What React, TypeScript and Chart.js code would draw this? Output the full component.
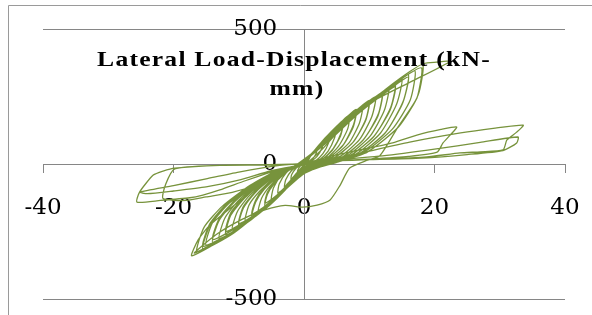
import { useEffect, useRef } from "react";
import { Chart, registerables } from "chart.js";

Chart.register(...registerables);

// Title and axis ticks
const titleLines = ["Lateral Load-Displacement (kN-", "mm)"];
const xTickValues = [-40, -20, 0, 20, 40];
const yTickValues = [-500, 0, 500];

// [displacement (mm), load (kN)] — small amplitude cycles (±1 .. ±9 mm)
const smallCycles: [number, number][] = [
  [0, 0], [0.4, 16], [0.8, 30], [1.0, 35], [0.9, 24], [0.5, 8], [0.1, -2], [-0.4, -14], [-0.8, -26], [-1.0, -30], [-0.9, -20], [-0.5, -6], [-0.1, 2],
  [0.3, 4], [0.8, 22], [1.5, 45], [2.0, 60], [1.9, 42], [1.3, 18], [0.6, 5], [0, -4], [-0.7, -22], [-1.5, -44], [-2.0, -58], [-1.9, -40], [-1.2, -15], [-0.5, -2],
  [0.1, 0], [0.9, 28], [1.9, 58], [2.6, 78], [3.0, 88], [2.8, 62], [2.0, 28], [1.0, 8], [0.2, -3], [-0.9, -28], [-1.9, -56], [-2.6, -75], [-3.0, -85], [-2.8, -58], [-1.9, -24], [-0.9, -6],
  [0, 0], [1.2, 38], [2.5, 75], [3.4, 98], [4.0, 112], [3.8, 80], [2.9, 38], [1.7, 10], [0.5, -4], [-0.8, -30], [-2.2, -68], [-3.3, -95], [-4.0, -108], [-3.8, -74], [-2.7, -32], [-1.4, -8],
  [-0.2, 0], [1.4, 45], [3.0, 90], [4.3, 122], [5.0, 138], [4.7, 98], [3.7, 48], [2.3, 14], [0.8, -4], [-0.6, -28], [-2.4, -78], [-4.0, -116], [-5.0, -132], [-4.7, -90], [-3.5, -40], [-1.8, -10], [-0.4, 0],
  [1.6, 50], [3.4, 100], [5.0, 140], [6.0, 160], [5.7, 116], [4.5, 58], [2.9, 18], [1.1, -3], [-0.5, -28], [-2.6, -88], [-4.6, -134], [-6.0, -155], [-5.6, -112], [-4.6, -74], [-3.0, -37], [-1.6, -12], [-0.4, -2],
  [1.5, 44], [3.3, 92], [4.9, 132], [6.0, 150], [5.6, 104], [4.3, 50], [2.6, 14], [0.9, -4], [-0.7, -30], [-2.8, -86], [-4.8, -128], [-6.0, -145], [-5.6, -104], [-4.6, -70], [-3.0, -35], [-1.6, -12], [-0.4, -1],
  [1.8, 55], [3.9, 112], [5.8, 158], [7.0, 182], [6.7, 130], [5.3, 66], [3.4, 20], [1.4, -2], [-0.4, -26], [-2.8, -92], [-5.2, -150], [-7.0, -176], [-6.5, -127], [-5.3, -84], [-3.5, -42], [-1.8, -14], [-0.4, -2],
  [2.0, 58], [4.4, 122], [6.6, 175], [8.0, 202], [7.6, 146], [6.1, 74], [3.9, 24], [1.6, -2], [-0.4, -28], [-3.1, -102], [-5.9, -166], [-8.0, -196], [-7.4, -141], [-6.1, -94], [-4.0, -47], [-2.1, -16], [-0.5, -2],
  [2.2, 56], [4.6, 118], [6.8, 166], [8.0, 190], [7.5, 134], [5.9, 66], [3.6, 20], [1.4, -3], [-0.6, -30], [-3.3, -100], [-6.1, -158], [-8.0, -185], [-7.4, -133], [-6.1, -89], [-4.0, -44], [-2.1, -15], [-0.5, -2],
  [2.3, 64], [5.0, 132], [7.5, 188], [9.0, 215], [8.5, 152], [6.9, 78], [4.4, 26], [1.8, -1], [-0.5, -30], [-3.4, -106], [-6.6, -176], [-9.0, -210], [-8.4, -151], [-6.8, -101], [-4.5, -50], [-2.3, -17], [-0.5, -2],
];

// Large amplitude cycles (±10 .. ±18 mm)
const largeCycles: [number, number][] = [
  [2.5, 70], [5.4, 142], [8.2, 202], [10.0, 236], [9.5, 168], [7.7, 86], [5.0, 28], [2.1, 0], [-0.4, -30], [-3.6, -110], [-7.1, -188], [-10.0, -228], [-9.3, -164], [-7.6, -109], [-5.0, -55], [-2.6, -18], [-0.6, -2],
  [2.7, 68], [5.6, 138], [8.4, 196], [10.0, 225], [9.4, 158], [7.5, 80], [4.8, 26], [1.9, 0], [-0.6, -32], [-3.8, -112], [-7.3, -184], [-10.0, -220], [-9.3, -158], [-7.6, -106], [-5.0, -53], [-2.6, -18], [-0.6, -2],
  [2.8, 74], [6.0, 150], [9.0, 214], [11.0, 250], [10.4, 176], [8.5, 90], [5.6, 29], [2.4, 0], [-0.4, -31], [-3.9, -118], [-7.8, -200], [-11.0, -245], [-10.2, -176], [-8.4, -118], [-5.5, -59], [-2.9, -20], [-0.7, -2],
  [3.0, 78], [6.5, 160], [9.8, 226], [12.0, 265], [11.4, 186], [9.3, 96], [6.2, 30], [2.8, 1], [-0.3, -32], [-4.2, -124], [-8.4, -212], [-12.0, -262], [-11.2, -189], [-9.1, -126], [-6.0, -63], [-3.1, -21], [-0.7, -3],
  [3.2, 76], [6.7, 156], [10.0, 220], [12.0, 255], [11.3, 176], [9.1, 90], [6.0, 28], [2.6, 0], [-0.5, -34], [-4.4, -124], [-8.6, -206], [-12.0, -250], [-11.2, -180], [-9.1, -120], [-6.0, -60], [-3.1, -20], [-0.7, -3],
  [3.3, 82], [7.1, 170], [10.7, 242], [13.0, 282], [12.3, 198], [10.1, 102], [6.7, 32], [3.1, 1], [-0.3, -33], [-4.5, -130], [-9.1, -224], [-13.0, -276], [-12.1, -199], [-9.9, -132], [-6.5, -66], [-3.4, -22], [-0.8, -3],
  [3.5, 85], [7.6, 178], [11.5, 255], [14.0, 298], [13.3, 210], [10.9, 108], [7.3, 34], [3.4, 2], [-0.2, -34], [-4.8, -136], [-9.8, -236], [-14.0, -290], [-13.0, -209], [-10.6, -139], [-7.0, -70], [-3.6, -23], [-0.8, -3],
  [3.7, 84], [7.8, 176], [11.7, 250], [14.0, 286], [13.2, 200], [10.7, 102], [7.1, 32], [3.2, 1], [-0.4, -35], [-5.0, -136], [-10.0, -230], [-14.0, -280], [-13.0, -202], [-10.6, -134], [-7.0, -67], [-3.6, -22], [-0.8, -3],
  [3.8, 90], [8.1, 190], [12.4, 270], [15.0, 314], [14.2, 222], [11.7, 114], [7.9, 36], [3.7, 2], [-0.1, -35], [-5.0, -140], [-10.3, -245], [-15.0, -300], [-14.0, -216], [-11.4, -144], [-7.5, -72], [-3.9, -24], [-0.9, -3],
  [4.0, 95], [8.6, 200], [13.2, 285], [16.0, 330], [15.2, 232], [12.6, 120], [8.5, 38], [4.0, 3], [0, -36], [-5.2, -146], [-10.8, -256], [-15.5, -315], [-14.4, -227], [-11.8, -151], [-7.8, -76], [-4.0, -25], [-0.9, -3],
  [4.2, 94], [8.8, 198], [13.4, 282], [16.0, 322], [15.1, 224], [12.4, 114], [8.3, 36], [3.8, 2], [-0.2, -36], [-5.4, -146], [-11.0, -252], [-15.5, -305], [-14.4, -220], [-11.8, -146], [-7.8, -73], [-4.0, -24], [-0.9, -3],
  [4.3, 98], [9.2, 208], [14.0, 298], [17.0, 345], [16.3, 238], [13.5, 128], [9.1, 42], [4.6, 5], [0.2, -32], [-5.4, -148], [-11.1, -258], [-16.4, -325], [-15.3, -234], [-12.5, -156], [-8.2, -78], [-4.3, -26], [-1.0, -3],
  [4.4, 100], [9.6, 215], [14.6, 310], [18.0, 356], [17.3, 244], [14.3, 133], [9.7, 44], [5.1, 7], [0.3, -30], [-5.6, -150], [-11.4, -262], [-17.2, -340], [-16.2, -280], [-14.4, -226], [-9.3, -126], [-5.2, -52], [-1.5, -8],
  [4.6, 104], [9.8, 222], [15.0, 322], [18.2, 368], [17.5, 256], [14.5, 138], [9.8, 46], [5.0, 6], [0.2, -30], [-5.4, -146], [-11.0, -255], [-16.8, -330],
];

// Reloading to the peak plateau and the unloading after it
const peakBranch: [number, number][] = [
  [-13.5, -262], [-9.5, -205], [-6.0, -170], [-2.9, -153], [-0.2, -160], [2.0, -152], [4.0, -133], [5.5, -80], [7.0, -15], [9.5, 12], [11.6, 30],
  [14.3, 133], [17.3, 244], [18.2, 350], [18.4, 372], [20.3, 377], [22.4, 380],
  [16.5, 306], [10.1, 226], [6.0, 140], [3.0, 60], [0.5, 5],
];

// Degraded cycles after the peak
const degradedCycles: [number, number][] = [
  [-3.0, -30], [-7.0, -75], [-11.0, -105], [-15.0, -122], [-18.0, -135], [-21.6, -128], [-21.2, -75], [-19.8, -18], [-13.0, -5], [-6.7, -3], [0, 2],
  [4.0, 28], [8.6, 52], [13.6, 78], [17.3, 107], [21.0, 128], [23.4, 137], [22.4, 107], [21.3, 78], [20.4, 44], [16.0, 28], [10.0, 18], [5.0, 12], [1.0, 4],
  [-3.0, -3], [-6.7, -4], [-12.9, -5], [-19.8, -15], [-21.6, -26], [-23.1, -41], [-25.2, -104], [-25.6, -141], [-22.0, -135], [-17.5, -125], [-15.5, -115], [-12.9, -96], [-9.0, -62], [-5.0, -30], [-1.0, -5],
  [3.0, 10], [8.6, 40], [16.2, 81], [24.0, 115], [29.0, 132], [33.6, 144], [32.6, 118], [31.1, 89], [30.5, 52], [27.0, 45], [23.9, 41], [18.8, 26], [12.0, 18], [6.0, 14], [1.0, 5],
  [-4.0, -6], [-10.0, -30], [-15.0, -55], [-20.0, -80], [-25.2, -104], [-24.0, -110], [-20.0, -100], [-15.0, -85], [-10.0, -60], [-5.0, -25], [0, -2],
  [5.0, 15], [12.0, 30], [20.0, 55], [27.0, 80], [32.8, 100], [32.6, 78], [30.5, 50], [25.0, 35], [18.0, 22], [10.0, 16], [4.0, 12], [0, 5],
];

const LINE_COLOR = "#77933C";
const AXIS_COLOR = "#868686";

const zeroPadding = (scale: any) => {
  scale.paddingLeft = 0;
  scale.paddingRight = 0;
  scale.paddingTop = 0;
  scale.paddingBottom = 0;
};

export default function App() {
  const canvasRef = useRef<HTMLCanvasElement | null>(null);

  useEffect(() => {
    const canvas = canvasRef.current;
    if (!canvas) return;

    const allPoints = [...smallCycles, ...largeCycles, ...peakBranch, ...degradedCycles].map(
      ([x, y]) => ({ x, y })
    );

    const framePlugin = {
      id: "frame",
      beforeDraw(chart: any) {
        const ctx = chart.ctx;
        ctx.save();
        ctx.fillStyle = "#ffffff";
        ctx.fillRect(0, 0, chart.width, chart.height);
        ctx.strokeStyle = "#9a9a9a";
        ctx.lineWidth = 1;
        ctx.beginPath();
        ctx.moveTo(8.5, chart.height + 2);
        ctx.lineTo(8.5, 5.5);
        ctx.lineTo(chart.width + 2, 5.5);
        ctx.stroke();
        ctx.restore();
      },
    };

    const titlePlugin = {
      id: "overlayTitle",
      afterDatasetsDraw(chart: any) {
        const ctx = chart.ctx;
        ctx.save();
        ctx.fillStyle = "#000000";
        ctx.font = "bold 21px 'Liberation Serif'";
        ctx.textAlign = "center";
        ctx.textBaseline = "alphabetic";
        try {
          (ctx as any).letterSpacing = "1px";
        } catch (e) {}
        const baselines = [66, 95];
        const centers = [294, 297];
        titleLines.forEach((line, i) => {
          ctx.save();
          ctx.translate(centers[i], baselines[i]);
          ctx.scale(1.22, 1);
          ctx.fillText(line, 0, 0);
          ctx.restore();
        });
        ctx.restore();
      },
    };

    const tickFont = { family: "'DejaVu Serif'", size: 23 };

    const chart = new Chart(canvas, {
      type: "scatter",
      data: {
        datasets: [
          {
            data: allPoints,
            showLine: true,
            borderColor: LINE_COLOR,
            borderWidth: 1.3,
            pointRadius: 0,
            tension: 0.2,
            fill: false,
          },
        ],
      },
      options: {
        responsive: false,
        animation: false,
        events: [],
        layout: { padding: { left: 43, right: 27, top: 29, bottom: 16 } },
        plugins: {
          legend: { display: false },
          tooltip: { enabled: false },
          title: { display: false },
        },
        scales: {
          x: {
            type: "linear",
            position: { y: 0 } as any,
            min: -40,
            max: 40,
            afterBuildTicks: (scale: any) => {
              scale.ticks = xTickValues.map((v) => ({ value: v }));
            },
            afterFit: zeroPadding,
            ticks: {
              font: tickFont,
              color: "#000000",
              padding: 22,
              maxRotation: 0,
              autoSkip: false,
            },
            grid: {
              drawOnChartArea: false,
              drawTicks: true,
              tickLength: 8,
              color: AXIS_COLOR,
              tickColor: AXIS_COLOR,
            },
            border: { display: true, color: AXIS_COLOR, width: 1 },
          },
          y: {
            type: "linear",
            position: { x: 0 } as any,
            min: -500,
            max: 500,
            afterBuildTicks: (scale: any) => {
              scale.ticks = yTickValues.map((v) => ({ value: v }));
            },
            afterFit: zeroPadding,
            ticks: { display: false },
            grid: { color: AXIS_COLOR, drawTicks: false },
            border: { display: true, color: AXIS_COLOR, width: 1 },
          },
          yLabels: {
            type: "linear",
            axis: "y",
            position: { x: -4.1 } as any,
            min: -500,
            max: 500,
            afterBuildTicks: (scale: any) => {
              scale.ticks = yTickValues.map((v) => ({ value: v }));
            },
            afterFit: zeroPadding,
            ticks: { font: tickFont, color: "#000000" },
            grid: { display: false },
            border: { display: false },
          } as any,
        },
      },
      plugins: [framePlugin, titlePlugin],
    });

    return () => {
      chart.destroy();
    };
  }, []);

  return (
    <div style={{ position: "absolute", left: 0, top: 0, width: 592, height: 315 }}>
      <canvas ref={canvasRef} width={592} height={315} />
    </div>
  );
}
